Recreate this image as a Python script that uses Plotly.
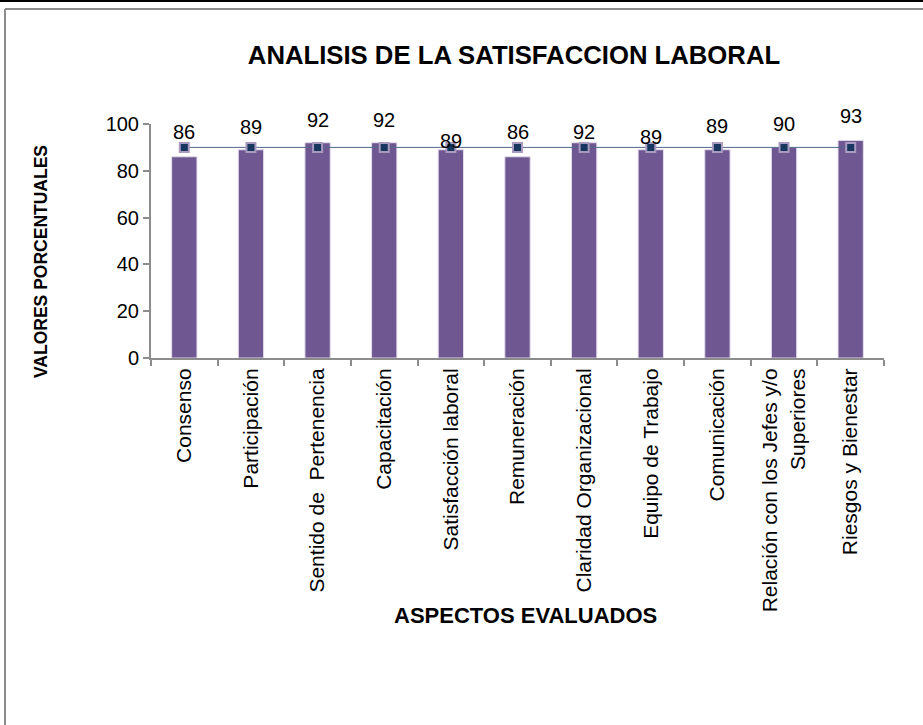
import plotly.graph_objects as go

categories = [
    "Consenso", "Participación", "Sentido de  Pertenencia", "Capacitación",
    "Satisfacción laboral", "Remuneración", "Claridad Organizacional",
    "Equipo de Trabajo", "Comunicación", "Relación con los Jefes y/o<br>Superiores",
    "Riesgos y Bienestar",
]
values = [86, 89, 92, 92, 89, 86, 92, 89, 89, 90, 93]
target = [90, 90, 90, 90, 90, 90, 90, 90, 90, 90, 90]
y_ticks = [0, 20, 40, 60, 80, 100]

# label placement (style only): pixels above the bar top
label_lift = [25, 23, 23, 23, 9, 25, 11, 13, 24, 23, 24]

W, H = 923, 725
L, R, T, B = 151, 39, 124, 367
pw, ph = W - L - R, H - T - B

def px(x):
    return (x - L) / pw

def py(y):
    return (H - B - y) / ph

FONT = "Liberation Sans, Arial, sans-serif"

fig = go.Figure()
fig.add_trace(go.Bar(
    x=categories, y=values, width=0.38,
    marker=dict(color="#6f5891", line=dict(color="#e4ddeb", width=1)),
    showlegend=False, hoverinfo="skip",
))
fig.add_trace(go.Scatter(
    x=categories, y=target, mode="lines+markers",
    line=dict(color="#4f6a8a", width=1),
    marker=dict(symbol="square", size=9, color="#17375e",
                line=dict(color="#a99bc0", width=2)),
    showlegend=False, hoverinfo="skip",
))
for c, v, s in zip(categories, values, label_lift):
    fig.add_annotation(x=c, y=v, text=str(v), showarrow=False,
                       yshift=s, font=dict(family=FONT, size=20, color="#000"))

fig.update_layout(
    width=W, height=H,
    margin=dict(l=L, r=R, t=T, b=B, autoexpand=False),
    paper_bgcolor="white", plot_bgcolor="white",
    font=dict(family=FONT, color="#000"),
    title=dict(text="<b>ANALISIS DE LA SATISFACCION LABORAL</b>",
               x=px(514), xref="paper", xanchor="center",
               y=1 - 55 / H, yanchor="middle",
               font=dict(family=FONT, size=25.7, color="#000")),
    xaxis=dict(
        type="category", range=[-0.5, len(categories) - 0.5],
        showline=True, linecolor="#8c8c8c", linewidth=2,
        ticks="outside", ticklen=6, tickcolor="#8c8c8c", tickwidth=2,
        tickson="boundaries", tickangle=-90,
        tickfont=dict(family=FONT, size=21, color="#000"),
        showgrid=False, zeroline=False,
    ),
    yaxis=dict(
        range=[0, 100], tickvals=y_ticks, showline=True, linecolor="#8c8c8c",
        linewidth=2, ticks="outside", ticklen=6, tickcolor="#8c8c8c", tickwidth=2,
        tickfont=dict(family=FONT, size=20, color="#000"),
        showgrid=False, zeroline=False,
    ),
)

fig.add_annotation(x=px(29), y=py(262), xref="paper", yref="paper", textangle=-90,
                   text="<b>VALORES PORCENTUALES</b>", showarrow=False,
                   font=dict(family=FONT, size=17.5, color="#000"))
fig.add_annotation(x=px(525), y=py(630), xref="paper", yref="paper",
                   text="<b>ASPECTOS EVALUADOS</b>", showarrow=False,
                   font=dict(family=FONT, size=22, color="#000"))

# frame lines
fig.add_shape(type="line", xref="paper", yref="paper",
              x0=px(5), x1=px(5), y0=py(9), y1=py(H), line=dict(color="#8c8c8c", width=2))
fig.add_shape(type="line", xref="paper", yref="paper",
              x0=px(5), x1=px(W), y0=py(9), y1=py(9), line=dict(color="#8c8c8c", width=2))
fig.add_shape(type="line", xref="paper", yref="paper",
              x0=px(0), x1=px(W), y0=py(1), y1=py(1), line=dict(color="#000", width=2))

fig.write_html("out.html", config={"displayModeBar": False},
               post_script="document.body.style.margin='0px';")
